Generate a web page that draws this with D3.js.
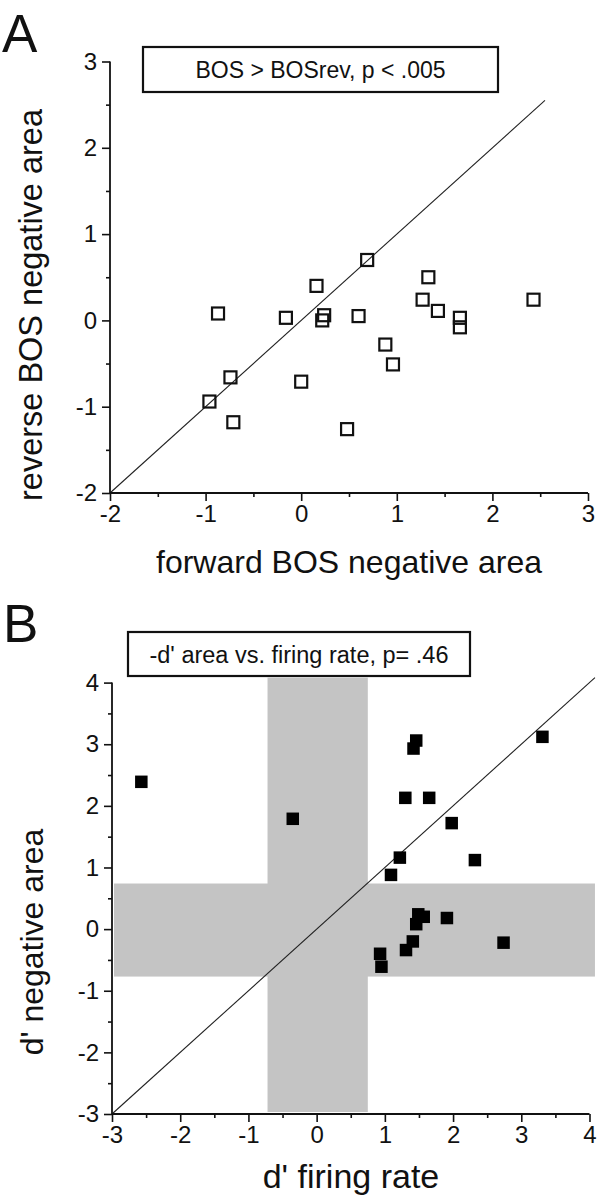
<!DOCTYPE html>
<html>
<head>
<meta charset="utf-8">
<script src="https://cdn.jsdelivr.net/npm/d3@7"></script>
<style>
  html, body { margin: 0; padding: 0; background: #fff; }
  svg { display: block; font-family: "Liberation Sans", Arial, Helvetica, sans-serif; }
</style>
</head>
<body>
<svg id="chart" width="615" height="1199"></svg>
<script>
// ---------- Panel A data ----------
const forwardBOS = [-0.87, -0.16, 0.16, 0.24, 0.22, 0.60, 0.69, 0.88, 1.27, 1.33, 1.43, 1.66, 1.66, 2.43, 0.96, -0.74, -0.96, 0.00, -0.71, 0.48];
const reverseBOS = [0.08, 0.03, 0.40, 0.06, 0.00, 0.05, 0.70, -0.28, 0.24, 0.50, 0.11, 0.03, -0.08, 0.24, -0.51, -0.66, -0.94, -0.71, -1.18, -1.26];
const ticksA = [-2, -1, 0, 1, 2, 3];
const minorTicksA = [-1.5, -0.5, 0.5, 1.5, 2.5];
const diagA = [-2, 2.55];
const legendA = "BOS > BOSrev, p < .005";

// ---------- Panel B data ----------
const dFiring = [-2.57, -0.35, 1.46, 1.42, 1.30, 1.65, 1.98, 1.22, 2.32, 1.09, 3.31, 1.49, 1.57, 1.46, 1.91, 1.41, 1.31, 0.93, 0.95, 2.74];
const dNegArea = [2.39, 1.79, 3.06, 2.93, 2.13, 2.13, 1.72, 1.16, 1.12, 0.88, 3.12, 0.24, 0.20, 0.08, 0.18, -0.20, -0.34, -0.40, -0.61, -0.22];
const ticksB = [-3, -2, -1, 0, 1, 2, 3, 4];
const minorTicksB = [-2.5, -1.5, -0.5, 0.5, 1.5, 2.5, 3.5];
const diagB = [-3, 4.08];
const bandX = [-0.72, 0.75];   // vertical grey band (x range)
const bandY = [-0.77, 0.74];   // horizontal grey band (y range)
const bandExtent = [-3, 4.08];
const legendB = "-d' area vs. firing rate, p= .46";

const svg = d3.select("#chart");
const GREY = "#c4c4c4";
const INK = "#111";
const fmt = d => String(d);

function drawAxes(g, x, y, ticks, minor) {
  const ax = g.append("g").attr("transform", `translate(0,${y.range()[0]})`);
  ax.call(d3.axisBottom(x).tickValues(ticks).tickSize(8).tickPadding(4).tickFormat(fmt));
  ax.append("g").call(d3.axisBottom(x).tickValues(minor).tickSize(4).tickFormat(""));
  const ay = g.append("g").attr("transform", `translate(${x.range()[0]},0)`);
  ay.call(d3.axisLeft(y).tickValues(ticks).tickSize(8).tickPadding(5).tickFormat(fmt));
  ay.append("g").call(d3.axisLeft(y).tickValues(minor).tickSize(4).tickFormat(""));
  g.selectAll(".domain").remove();
  g.selectAll(".tick line").attr("stroke", INK).attr("stroke-width", 1.6);
  g.selectAll(".tick text").attr("font-size", 24).attr("fill", INK)
    .attr("font-family", "'Liberation Sans', Arial, sans-serif");
  // axis lines through the scales
  g.append("line").attr("x1", x.range()[0]).attr("x2", x.range()[1])
    .attr("y1", y.range()[0]).attr("y2", y.range()[0]).attr("stroke", INK).attr("stroke-width", 1.8);
  g.append("line").attr("x1", x.range()[0]).attr("x2", x.range()[0])
    .attr("y1", y.range()[0]).attr("y2", y.range()[1]).attr("stroke", INK).attr("stroke-width", 1.8);
}

// ================= Panel A =================
const xA = d3.scaleLinear().domain([-2, 3]).range([110, 588]);
const yA = d3.scaleLinear().domain([-2, 3]).range([493, 61.5]);
const gA = svg.append("g");

gA.append("line")
  .attr("x1", xA(diagA[0])).attr("y1", yA(diagA[0]))
  .attr("x2", xA(diagA[1])).attr("y2", yA(diagA[1]))
  .attr("stroke", "#222").attr("stroke-width", 1.1);

drawAxes(gA, xA, yA, ticksA, minorTicksA);

const sq = 12;
gA.selectAll("rect.pt").data(forwardBOS.map((v, i) => [v, reverseBOS[i]]))
  .enter().append("rect")
  .attr("class", "pt")
  .attr("x", d => xA(d[0]) - sq / 2).attr("y", d => yA(d[1]) - sq / 2)
  .attr("width", sq).attr("height", sq)
  .attr("fill", "none").attr("stroke", INK).attr("stroke-width", 2.2);

gA.append("rect").attr("x", 143).attr("y", 47).attr("width", 355).attr("height", 45)
  .attr("fill", "#fff").attr("stroke", INK).attr("stroke-width", 2.2);
gA.append("text").attr("x", 320.5).attr("y", 70).attr("text-anchor", "middle")
  .attr("dominant-baseline", "central").attr("font-size", 23).attr("fill", INK).text(legendA);

gA.append("text").attr("x", 349).attr("y", 573).attr("text-anchor", "middle")
  .attr("font-size", 32).attr("fill", INK).text("forward BOS negative area");
gA.append("text").attr("transform", "translate(42,305) rotate(-90)").attr("text-anchor", "middle")
  .attr("font-size", 32.5).attr("fill", INK).text("reverse BOS negative area");

svg.append("text").attr("x", 2).attr("y", 52).attr("font-size", 53).attr("fill", INK).text("A");

// ================= Panel B =================
const xB = d3.scaleLinear().domain([-3, 4]).range([112, 589.5]);
const yB = d3.scaleLinear().domain([-3, 4]).range([1114, 682.6]);
const gB = svg.append("g");

gB.append("rect")
  .attr("x", xB(bandExtent[0]) + 2).attr("y", yB(bandY[1]))
  .attr("width", xB(bandExtent[1]) - xB(bandExtent[0]) - 2)
  .attr("height", yB(bandY[0]) - yB(bandY[1]))
  .attr("fill", GREY);
gB.append("rect")
  .attr("x", xB(bandX[0])).attr("y", yB(bandExtent[1]))
  .attr("width", xB(bandX[1]) - xB(bandX[0]))
  .attr("height", yB(bandExtent[0]) - yB(bandExtent[1]) - 2)
  .attr("fill", GREY);

gB.append("line")
  .attr("x1", xB(diagB[0])).attr("y1", yB(diagB[0]))
  .attr("x2", xB(diagB[1])).attr("y2", yB(diagB[1]))
  .attr("stroke", "#222").attr("stroke-width", 1.1);

drawAxes(gB, xB, yB, ticksB, minorTicksB);

const sqB = 12.5;
gB.selectAll("rect.pt").data(dFiring.map((v, i) => [v, dNegArea[i]]))
  .enter().append("rect")
  .attr("class", "pt")
  .attr("x", d => xB(d[0]) - sqB / 2).attr("y", d => yB(d[1]) - sqB / 2)
  .attr("width", sqB).attr("height", sqB)
  .attr("fill", "#000");

gB.append("rect").attr("x", 128).attr("y", 632).attr("width", 342).attr("height", 44)
  .attr("fill", "#fff").attr("stroke", INK).attr("stroke-width", 2.2);
gB.append("text").attr("x", 299).attr("y", 654.5).attr("text-anchor", "middle")
  .attr("dominant-baseline", "central").attr("font-size", 23.5).attr("fill", INK).text(legendB);

gB.append("text").attr("x", 351).attr("y", 1188).attr("text-anchor", "middle")
  .attr("font-size", 34).attr("fill", INK).text("d' firing rate");
gB.append("text").attr("transform", "translate(43,942) rotate(-90)").attr("text-anchor", "middle")
  .attr("font-size", 32).attr("fill", INK).text("d' negative area");

svg.append("text").attr("x", 3).attr("y", 642).attr("font-size", 53).attr("fill", INK).text("B");
</script>
</body>
</html>
